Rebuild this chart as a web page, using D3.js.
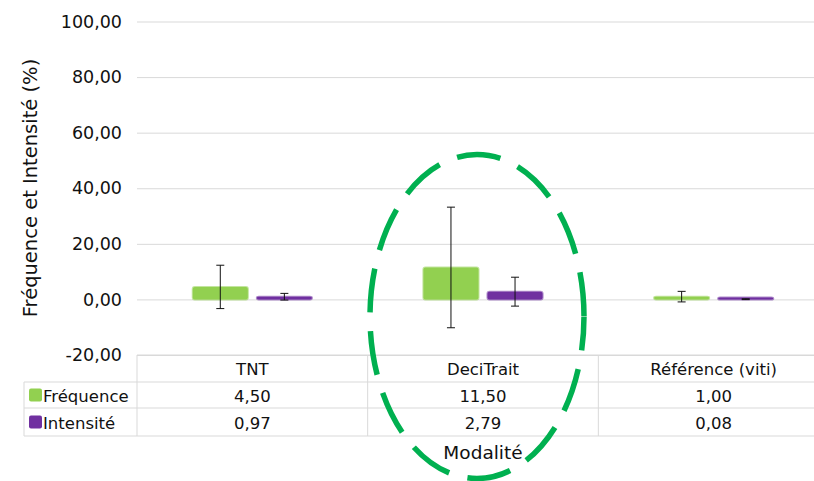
<!DOCTYPE html>
<html>
<head>
<meta charset="utf-8">
<script src="https://cdn.jsdelivr.net/npm/d3@7"></script>
<style>
  body { margin: 0; background: #fff; }
  svg { display: block; font-family: "DejaVu Sans", Verdana, sans-serif; }
</style>
</head>
<body>
<div id="chart"></div>
<script>
// data
var categories = ["TNT", "DeciTrait", "Référence (viti)"];
var seriesNames = ["Fréquence", "Intensité"];
var frequence = [4.50, 11.50, 1.00];
var intensite = [0.97, 2.79, 0.08];
var frequenceErr = [7.8, 21.7, 1.9];   // half-length of error bars
var intensiteErr = [1.2, 5.2, 0.15];
var yTicks = [-20, 0, 20, 40, 60, 80, 100];
var colors = ["#92d050", "#7030a0"];
var highlighted = "DeciTrait";

var W = 814, H = 481;
var plotLeft = 137, plotRight = 829, plotTop = 21.5, plotBottom = 355;
var rowH = [27, 26, 28]; // header, Fréquence, Intensité rows
var legendLeft = 24;

var values = [frequence, intensite];
var errs = [frequenceErr, intensiteErr];
var fmt = function(v){ return d3.format(".2f")(v).replace(".", ",").replace("\u2212", "-"); };

var svg = d3.select("#chart").append("svg")
  .attr("width", W)
  .attr("height", H);

var y = d3.scaleLinear().domain([-20, 100]).range([plotBottom, plotTop]);
var x0 = d3.scaleBand().domain(categories).range([plotLeft, plotRight]).padding(0);
var x1 = d3.scaleBand().domain(seriesNames).range([0, x0.bandwidth()])
  .paddingInner(0.14).paddingOuter(0.87);

// gridlines + tick labels
var yAxis = svg.append("g")
  .attr("transform", "translate(" + plotLeft + ",0)")
  .call(d3.axisLeft(y).tickValues(yTicks).tickFormat(fmt)
    .tickSize(-(plotRight - plotLeft)).tickPadding(15));
yAxis.select(".domain").remove();
yAxis.selectAll(".tick line").attr("stroke", "#d9d9d9").attr("stroke-width", 1);
yAxis.selectAll(".tick text")
  .attr("fill", "#111")
  .style("font-size", "17.5px")
  .style("font-family", "DejaVu Sans");

// y axis title
svg.append("text")
  .attr("transform", "translate(30," + 188 + ") rotate(-90)")
  .attr("text-anchor", "middle")
  .attr("dominant-baseline", "central")
  .style("font-size", "19.5px")
  .attr("fill", "#111")
  .text("Fréquence et Intensité (%)");

// bars
var groups = svg.selectAll(".cat")
  .data(categories)
  .enter().append("g")
  .attr("class", "cat")
  .attr("transform", function(d){ return "translate(" + x0(d) + ",0)"; });

seriesNames.forEach(function(s, si){
  groups.append("rect")
    .attr("x", x1(s))
    .attr("width", x1.bandwidth())
    .attr("y", function(d, i){ return Math.min(y(values[si][i]), y(0) - 2); })
    .attr("height", function(d, i){ return Math.max(Math.abs(y(values[si][i]) - y(0)), 2); })
    .attr("rx", 2)
    .attr("fill", colors[si])
    .attr("stroke", colors[si])
    .attr("stroke-opacity", 0.55)
    .attr("stroke-width", 2);
});

// error bars
seriesNames.forEach(function(s, si){
  var cx = x1(s) + x1.bandwidth() / 2;
  groups.append("line")
    .attr("x1", cx).attr("x2", cx)
    .attr("y1", function(d, i){ return y(values[si][i] + errs[si][i]); })
    .attr("y2", function(d, i){ return y(values[si][i] - errs[si][i]); })
    .attr("stroke", "#111").attr("stroke-width", 1);
  [1, -1].forEach(function(sign){
    groups.append("line")
      .attr("x1", cx - 4).attr("x2", cx + 4)
      .attr("y1", function(d, i){ return y(values[si][i] + sign * errs[si][i]); })
      .attr("y2", function(d, i){ return y(values[si][i] + sign * errs[si][i]); })
      .attr("stroke", "#111").attr("stroke-width", 1);
  });
});

// data table
var table = svg.append("g");
var lineCol = "#d9d9d9";
var r1 = plotBottom + rowH[0], r2 = r1 + rowH[1], r3 = r2 + rowH[2];

table.append("line").attr("x1", plotLeft).attr("x2", plotRight).attr("y1", plotBottom).attr("y2", plotBottom)
  .attr("stroke", lineCol);
[r1, r2, r3].forEach(function(yy){
  table.append("line").attr("x1", legendLeft).attr("x2", plotRight).attr("y1", yy).attr("y2", yy)
    .attr("stroke", lineCol);
});
categories.concat([null]).forEach(function(c){
  var xx = c ? x0(c) : plotRight;
  table.append("line").attr("x1", xx).attr("x2", xx).attr("y1", plotBottom).attr("y2", r3)
    .attr("stroke", lineCol);
});
table.append("line").attr("x1", legendLeft).attr("x2", legendLeft).attr("y1", r1).attr("y2", r3)
  .attr("stroke", lineCol);

table.selectAll(".catlab")
  .data(categories)
  .enter().append("text")
  .attr("x", function(d){ return x0(d) + x0.bandwidth() / 2; })
  .attr("y", plotBottom + rowH[0] / 2 + 1)
  .attr("text-anchor", "middle")
  .attr("dominant-baseline", "central")
  .style("font-size", "16.5px")
  .attr("fill", "#111")
  .text(function(d){ return d; });

var rowTops = [r1, r2];
seriesNames.forEach(function(s, si){
  var cy = rowTops[si] + rowH[si + 1] / 2;
  table.append("rect")
    .attr("x", legendLeft + 5).attr("y", cy - 6.5)
    .attr("width", 13).attr("height", 13)
    .attr("rx", 2)
    .attr("fill", colors[si]);
  table.append("text")
    .attr("x", legendLeft + 19).attr("y", cy + 1)
    .attr("dominant-baseline", "central")
    .style("font-size", "16.5px")
    .attr("fill", "#111")
    .text(s);
  table.selectAll(".val" + si)
    .data(categories)
    .enter().append("text")
    .attr("x", function(d){ return x0(d) + x0.bandwidth() / 2; })
    .attr("y", cy + 1)
    .attr("text-anchor", "middle")
    .attr("dominant-baseline", "central")
    .style("font-size", "16.5px")
    .attr("fill", "#111")
    .text(function(d, i){ return fmt(values[si][i]); });
});

// x axis title
svg.append("text")
  .attr("x", x0(highlighted) + x0.bandwidth() / 2)
  .attr("y", 452)
  .attr("text-anchor", "middle")
  .attr("dominant-baseline", "central")
  .style("font-size", "18.5px")
  .attr("fill", "#111")
  .text("Modalité");

// dashed ellipse drawn over DeciTrait
svg.append("ellipse")
  .attr("cx", x0(highlighted) + x0.bandwidth() / 2 - 6)
  .attr("cy", 316.5)
  .attr("rx", 107)
  .attr("ry", 162)
  .attr("fill", "none")
  .attr("stroke", "#00b050")
  .attr("stroke-width", 5.5)
  .attr("stroke-dasharray", "44,19")
  .attr("stroke-dashoffset", 10);
</script>
</body>
</html>
